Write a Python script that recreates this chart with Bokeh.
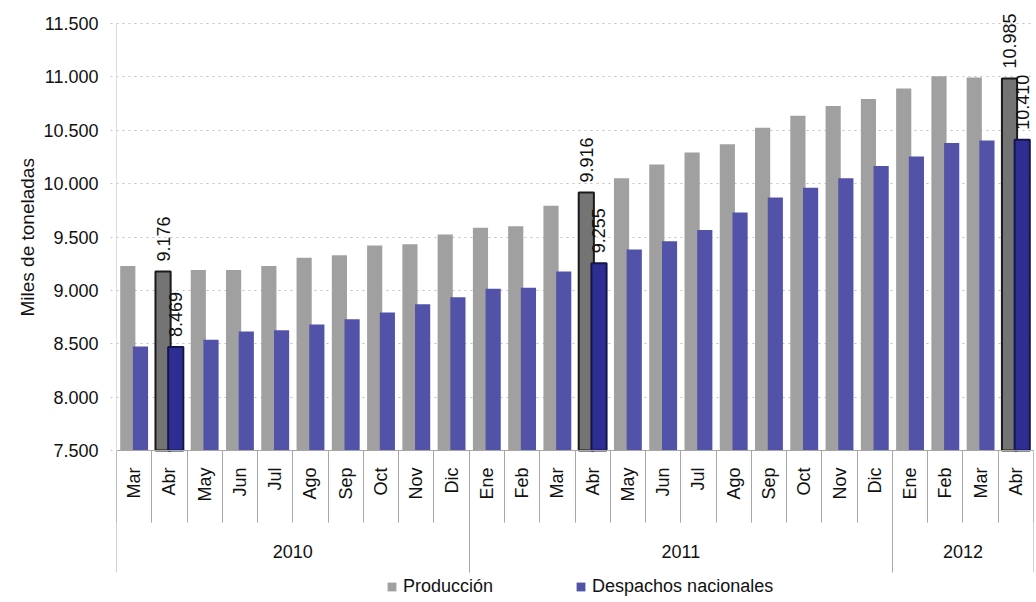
import math
from bokeh.plotting import figure
from bokeh.models import (Range1d, LinearAxis, FixedTicker, ColumnDataSource, LabelSet,
                          Legend, LegendItem, Grid, Title)
from bokeh.core.properties import value
from bokeh.embed import file_html
from bokeh.resources import INLINE

# ---------------- data ----------------
months = ["Mar", "Abr", "May", "Jun", "Jul", "Ago", "Sep", "Oct", "Nov", "Dic",
          "Ene", "Feb", "Mar", "Abr", "May", "Jun", "Jul", "Ago", "Sep", "Oct", "Nov", "Dic",
          "Ene", "Feb", "Mar", "Abr"]
years = ["2010", "2011", "2012"]
year_counts = [10, 12, 4]
produccion = [9228, 9176, 9192, 9190, 9228, 9305, 9330, 9420, 9432, 9524,
              9587, 9600, 9792, 9916, 10050, 10178, 10292, 10368, 10523, 10637,
              10726, 10792, 10892, 11005, 10995, 10985]
despachos = [8475, 8469, 8537, 8615, 8627, 8680, 8730, 8793, 8871, 8936,
             9015, 9024, 9177, 9255, 9383, 9461, 9565, 9730, 9870, 9962,
             10050, 10165, 10255, 10380, 10405, 10410]
highlighted = [1, 13, 25]          # Abr 2010, Abr 2011, Abr 2012
y_ticks = [7500, 8000, 8500, 9000, 9500, 10000, 10500, 11000, 11500]

FONT = "Liberation Sans"
TXT = "#111111"
GRAY = "#a0a0a0"
BLUE = "#5252a8"
GRAY_HL = "#747474"
BLUE_HL = "#2e2e92"
SEP = "#a6a6a6"


def fmt(v):
    return f"{v:,}".replace(",", ".")


n = len(months)
off = 0.18
bw = 0.43

normal = [i for i in range(n) if i not in highlighted]

src_n = ColumnDataSource(dict(
    xp=[i - off for i in normal], xd=[i + off for i in normal],
    prod=[produccion[i] for i in normal], desp=[despachos[i] for i in normal]))
src_h = ColumnDataSource(dict(
    xp=[i - off for i in highlighted], xd=[i + off for i in highlighted],
    prod=[produccion[i] for i in highlighted], desp=[despachos[i] for i in highlighted],
    tp=[fmt(produccion[i]) for i in highlighted], td=[fmt(despachos[i]) for i in highlighted]))

# layout in pixels: 427 px for 7.500-11.500, headroom above for the value labels,
# room below for the two label rows and the legend (all drawn inside the frame)
PX_SPAN = 427
TOP_PX = 21
BOTTOM_PX = 150
px_per_unit = PX_SPAN / (y_ticks[-1] - y_ticks[0])
y_view_top = y_ticks[-1] + TOP_PX / px_per_unit
y_view_bottom = y_ticks[0] - BOTTOM_PX / px_per_unit
frame_h = TOP_PX + PX_SPAN + BOTTOM_PX

p = figure(frame_width=917, frame_height=frame_h,
           x_range=Range1d(-0.5, n - 0.5), y_range=Range1d(y_view_bottom, y_view_top),
           x_axis_type=None, y_axis_type=None,
           output_backend="svg", toolbar_location=None,
           min_border_left=116, min_border_right=3, min_border_top=2,
           min_border_bottom=0)
p.outline_line_color = None
p.background_fill_color = "white"

# y axis
yaxis = LinearAxis(ticker=FixedTicker(ticks=y_ticks), bounds=(y_ticks[0], y_ticks[-1]),
                   major_label_overrides={v: fmt(v) for v in y_ticks},
                   major_label_text_font=FONT, major_label_text_font_size="18px",
                   major_label_text_color=TXT, major_label_standoff=12,
                   axis_line_color="#dcdcdc",
                   major_tick_out=6, major_tick_in=0, major_tick_line_color="#c8c8c8",
                   major_tick_line_dash="dotted",
                   minor_tick_line_color=None)
p.add_layout(yaxis, "left")
p.add_layout(Grid(dimension=1, ticker=yaxis.ticker, grid_line_color="#c0c0c0",
                  grid_line_dash="dotted", grid_line_width=1))

# y title, centred on the 7.500-11.500 span (offset measured up from the frame bottom)
TITLE_TXT = "Miles de toneladas"
title_len_px = 158
title_offset = round(BOTTOM_PX + PX_SPAN / 2 - title_len_px / 2)
p.add_layout(Title(text=TITLE_TXT, align="left", offset=title_offset,
                   text_font=FONT, text_font_size="19px", text_font_style="normal",
                   text_color=TXT, standoff=6), "left")

# month axis, pinned at the 7.500 baseline (separators = minor ticks)
MONTH_SEP = 72
month_axis = LinearAxis(
    fixed_location=y_ticks[0],
    ticker=FixedTicker(ticks=list(range(n)), minor_ticks=[i - 0.5 for i in range(n + 1)]),
    major_label_overrides={i: m for i, m in enumerate(months)},
    major_label_orientation=math.pi / 2, major_label_standoff=17 - MONTH_SEP,
    major_label_text_font=FONT, major_label_text_font_size="18px", major_label_text_color=TXT,
    major_tick_out=0, major_tick_in=0, major_tick_line_color=None,
    minor_tick_out=MONTH_SEP, minor_tick_in=0, minor_tick_line_color=SEP, minor_tick_line_width=1,
    axis_line_color=SEP)
p.add_layout(month_axis, "below")

# year axis, pinned at the same baseline
bounds = [-0.5]
for c in year_counts:
    bounds.append(bounds[-1] + c)
centers = [(bounds[k] + bounds[k + 1]) / 2 for k in range(len(years))]
YEAR_SEP = 122
year_axis = LinearAxis(
    fixed_location=y_ticks[0],
    ticker=FixedTicker(ticks=centers, minor_ticks=bounds),
    major_label_overrides={c: y for c, y in zip(centers, years)},
    major_label_standoff=94 - YEAR_SEP,
    major_label_text_font=FONT, major_label_text_font_size="18px", major_label_text_color=TXT,
    major_tick_out=0, major_tick_in=0, major_tick_line_color=None,
    minor_tick_in=0, minor_tick_out=YEAR_SEP, minor_tick_line_color=SEP,
    minor_tick_line_width=1,
    axis_line_color=None)
p.add_layout(year_axis, "below")

# bars
r_p = p.vbar(x="xp", top="prod", bottom=y_ticks[0], width=bw, source=src_n,
             fill_color=GRAY, line_color=None)
r_d = p.vbar(x="xd", top="desp", bottom=y_ticks[0], width=bw, source=src_n,
             fill_color=BLUE, line_color=None)
p.vbar(x="xp", top="prod", bottom=y_ticks[0], width=bw, source=src_h,
       fill_color=GRAY_HL, line_color="#1a1a1a", line_width=2)
p.vbar(x="xd", top="desp", bottom=y_ticks[0], width=bw, source=src_h,
       fill_color=BLUE_HL, line_color="#15154a", line_width=2)

# value labels
for xcol, tcol, ycol in (("xp", "tp", "prod"), ("xd", "td", "desp")):
    p.add_layout(LabelSet(x=xcol, y=ycol, text=tcol, source=src_h, angle=math.pi / 2,
                          text_align="left", text_baseline="middle", y_offset=10,
                          text_font=value(FONT), text_font_size="18px", text_color=TXT))

# legend at the bottom of the frame (screen offset from the frame's bottom-left corner)
legend = Legend(items=[LegendItem(label="Producción", renderers=[r_p]),
                       LegendItem(label="Despachos nacionales", renderers=[r_d])],
                orientation="horizontal", location=(270, 3),
                label_text_font=FONT, label_text_font_size="18px", label_text_color=TXT,
                glyph_width=11, glyph_height=11, label_standoff=6, spacing=82,
                border_line_color=None, background_fill_alpha=0, padding=0, margin=0)
p.add_layout(legend, "center")

open("out.html", "w").write(file_html(p, INLINE))
